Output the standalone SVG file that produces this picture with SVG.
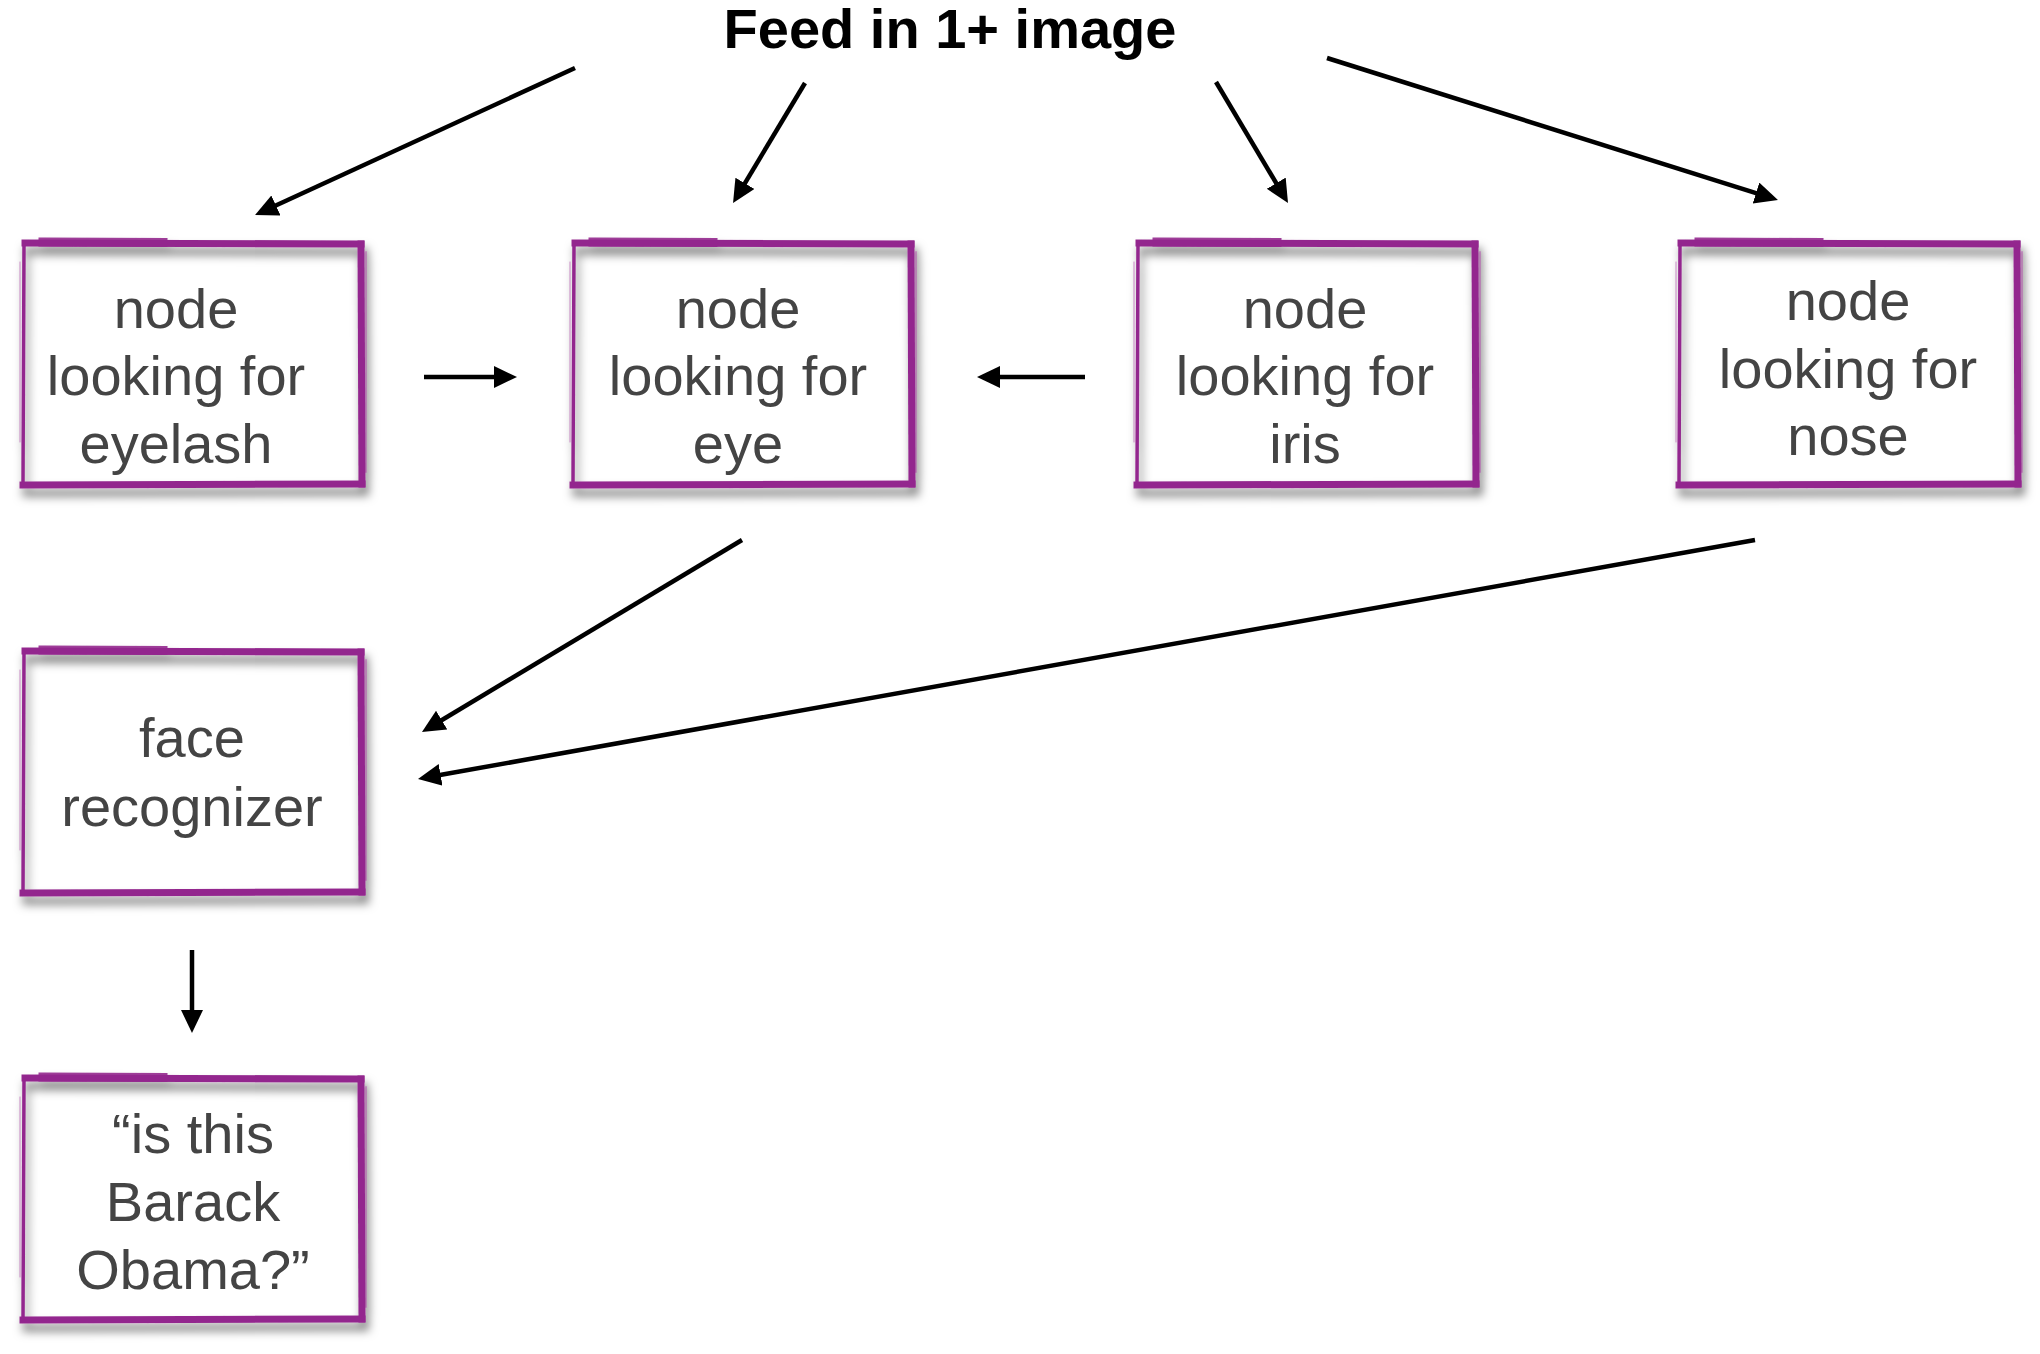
<svg xmlns="http://www.w3.org/2000/svg" xmlns:xlink="http://www.w3.org/1999/xlink" width="2040" height="1354" viewBox="0 0 2040 1354">
<style>
.lbl{font-family:"Liberation Sans",Arial,Helvetica,sans-serif;font-size:56px;fill:#444444;text-anchor:middle}
.ttl{font-family:"Liberation Sans",Arial,Helvetica,sans-serif;font-size:56px;font-weight:bold;fill:#000000;text-anchor:middle}
.cn{stroke:#000;stroke-width:4.5;fill:none;marker-end:url(#ah)}
.bd{stroke:#93288e;fill:none;stroke-linecap:square}
</style>
<defs>
<marker id="ah" markerUnits="userSpaceOnUse" markerWidth="24" markerHeight="24" refX="5" refY="11" orient="auto">
<path d="M0,0 L23,11 L0,22 Z" fill="#000"/>
</marker>
<filter id="sh" x="-10%" y="-10%" width="125%" height="130%">
<feDropShadow dx="3" dy="8" stdDeviation="5" flood-color="#000" flood-opacity="0.5"/>
</filter>
<g id="box">
<rect x="0" y="0" width="340" height="244" fill="#ffffff"/>
<g filter="url(#sh)">
<path class="bd" d="M2,1 L338,2" stroke-width="7"/>
<path class="bd" d="M20,0 L140,0.5" stroke-width="9" opacity="0.9"/>
<path class="bd" d="M338,2 L339,242" stroke-width="7"/>
<path class="bd" d="M0,243 L339,242" stroke-width="7"/>
<path class="bd" d="M1,3 L0,243" stroke-width="3.5"/>
<path class="bd" d="M-3,20 L-3,200" stroke-width="1" opacity="0.5"/>
<path class="bd" d="M343,10 L343,230" stroke-width="1.5" opacity="0.5"/>
</g>
</g>
</defs>
<rect width="2040" height="1354" fill="#ffffff"/>
<g id="title">
<text class="ttl" x="950" y="48">Feed in 1+ image</text>
</g>
<g id="node-eyelash">
<use xlink:href="#box" href="#box" x="23" y="242"/>
<text class="lbl" x="176" y="328">node</text>
<text class="lbl" x="176" y="395">looking for</text>
<text class="lbl" x="176" y="463">eyelash</text>
</g>
<g id="node-eye">
<use xlink:href="#box" href="#box" x="573" y="242"/>
<text class="lbl" x="738" y="328">node</text>
<text class="lbl" x="738" y="395">looking for</text>
<text class="lbl" x="738" y="463">eye</text>
</g>
<g id="node-iris">
<use xlink:href="#box" href="#box" x="1137" y="242"/>
<text class="lbl" x="1305" y="328">node</text>
<text class="lbl" x="1305" y="395">looking for</text>
<text class="lbl" x="1305" y="463">iris</text>
</g>
<g id="node-nose">
<use xlink:href="#box" href="#box" x="1679" y="242"/>
<text class="lbl" x="1848" y="320">node</text>
<text class="lbl" x="1848" y="388">looking for</text>
<text class="lbl" x="1848" y="455">nose</text>
</g>
<g id="node-face">
<use xlink:href="#box" href="#box" x="23" y="650"/>
<text class="lbl" x="192" y="757">face</text>
<text class="lbl" x="192" y="826">recognizer</text>
</g>
<g id="node-obama">
<use xlink:href="#box" href="#box" x="23" y="1077"/>
<text class="lbl" x="193" y="1153">“is this</text>
<text class="lbl" x="193" y="1221">Barack</text>
<text class="lbl" x="193" y="1289">Obama?”</text>
</g>
<g id="connectors">
<line class="cn" x1="575" y1="68" x2="271.4" y2="207.5"/>
<line class="cn" x1="805" y1="83" x2="742.3" y2="187.6"/>
<line class="cn" x1="1216" y1="82" x2="1278.8" y2="187.5"/>
<line class="cn" x1="1327" y1="58" x2="1760.8" y2="194.6"/>
<line class="cn" x1="424" y1="377" x2="499" y2="377"/>
<line class="cn" x1="1085" y1="377" x2="995" y2="377"/>
<line class="cn" x1="742" y1="540" x2="437.4" y2="722.7"/>
<line class="cn" x1="1755" y1="540" x2="435.7" y2="775.8"/>
<line class="cn" x1="192" y1="950" x2="192" y2="1015"/>
</g>
</svg>
